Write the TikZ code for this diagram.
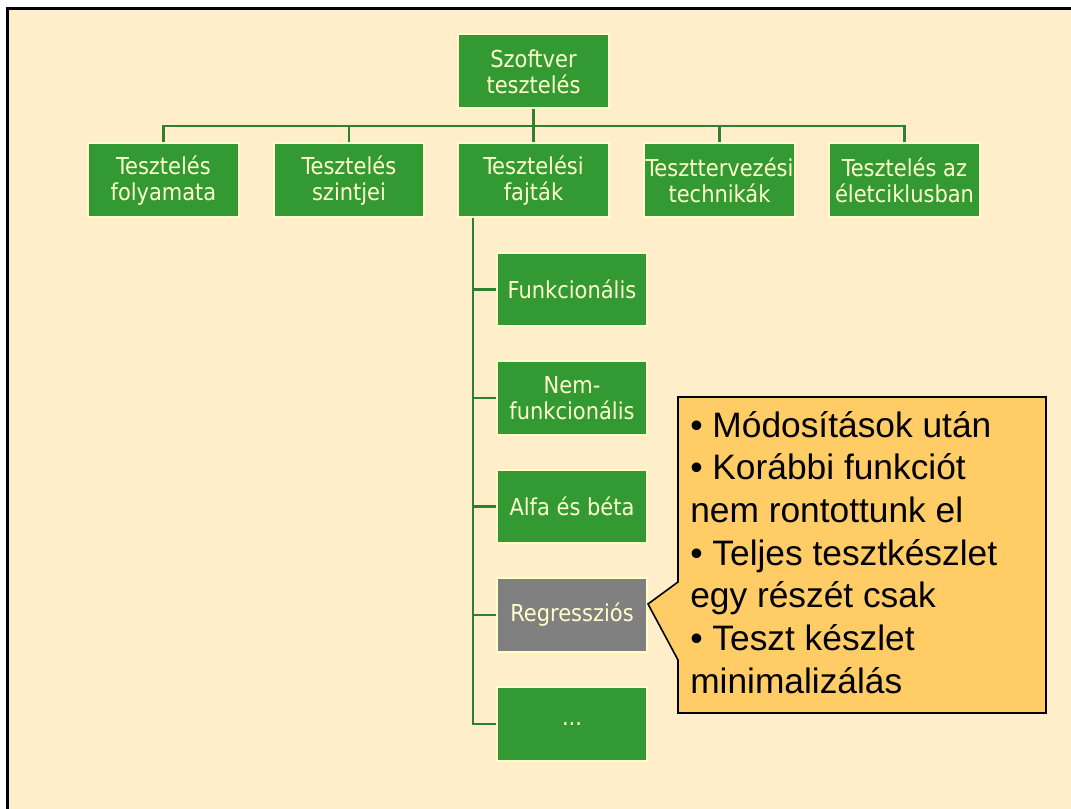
\documentclass[tikz,border=0pt]{standalone}
\usepackage{fontspec}
\setmainfont{Liberation Sans}
\newfontfamily\boxfont{DejaVu Sans Condensed}
\definecolor{paper}{RGB}{255,238,201}
\definecolor{leaf}{RGB}{51,153,51}
\definecolor{wirecol}{RGB}{45,128,45}
\definecolor{rim}{RGB}{255,255,204}
\definecolor{notefill}{RGB}{255,204,102}
\definecolor{slate}{RGB}{128,128,128}
\begin{document}
\begin{tikzpicture}[x=0.75pt,y=-0.75pt,
  topic/.style={fill=leaf, draw=rim, line width=1.5pt, text=rim,
    font=\boxfont\fontsize{17.5}{19.5}\selectfont, align=center,
    minimum width=113pt, minimum height=55.5pt, inner sep=0pt},
  subtopic/.style={topic, minimum width=112.5pt, minimum height=55pt},
  wire/.style={draw=wirecol, line width=2.2pt}]
\useasboundingbox (0,0) rectangle (1071,809);
% page background with its left and top rule
\fill[white] (0,0) rectangle (1071,809);
\fill[paper] (9,10) rectangle (1071,809);
\draw[black, line width=2.2pt] (7.5,809) -- (7.5,8.8) -- (1071,8.8);

% root and first level
\node[topic] (root) at (533.5,71.5) {Szoftver\\tesztelés};
\node[topic] (folyamat) at (163.5,180.5) {Tesztelés\\folyamata};
\node[topic] (szint) at (349,180.5) {Tesztelés\\szintjei};
\node[topic] (fajta) at (533.5,180.5) {Tesztelési\\fajták};
\node[topic] (terv) at (719.5,180.5) {Teszttervezési\\technikák};
\node[topic] (elet) at (904.5,180.5) {Tesztelés az\\életciklusban};

% second level under "Tesztelési fajták"
\node[subtopic] (funk) at (572,289.5) {Funkcionális};
\node[subtopic] (nemf) at (572,398) {Nem-\\funkcionális};
\node[subtopic] (alfa) at (572,506.5) {Alfa és béta};
\node[subtopic, fill=slate] (regr) at (572,615) {Regressziós};
\node[subtopic] (egyeb) at (572,724) {...};

% connectors
\coordinate (bus) at (533.5,126);
\draw[wire] (root.south) -- (fajta.north);
\draw[wire] (folyamat.north) |- (bus) -| (elet.north);
\draw[wire] (szint.north) -- (szint.north |- bus);
\draw[wire] (terv.north) -- (terv.north |- bus);
\coordinate (spine) at (473,218);
\draw[wire] (spine) |- (egyeb.west);
\foreach \n in {funk,nemf,alfa,regr}
  \draw[wire] (spine |- \n.west) -- (\n.west);

% callout explaining regression testing
\coordinate (tip) at (648,604);
\draw[fill=notefill, line width=1.2pt, line join=miter]
  (678,397) -- (1046,397) -- (1046,713) -- (678,713) -- (678,660)
  -- (tip) -- (678,582) -- cycle;
\node[anchor=north west, align=left, inner sep=0pt,
  font=\fontsize{26.5}{32}\selectfont] (notes) at (690,411)
  {\textbullet\ Módosítások után\\
   \textbullet\ Korábbi funkciót\\
   nem rontottunk el\\
   \textbullet\ Teljes tesztkészlet\\
   egy részét csak\\
   \textbullet\ Teszt készlet\\
   minimalizálás};
\end{tikzpicture}
\end{document}
